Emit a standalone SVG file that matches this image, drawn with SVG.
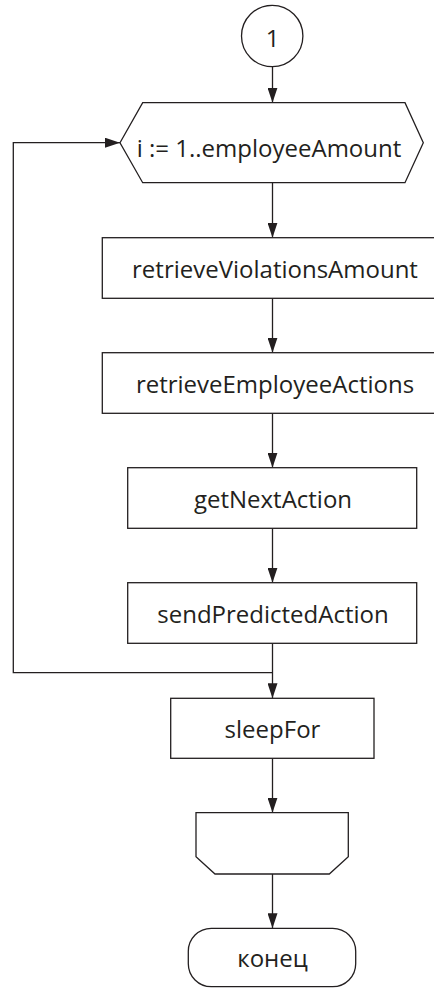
<svg xmlns="http://www.w3.org/2000/svg" width="434" height="988" viewBox="0 0 434 988">
<style>
.s{fill:#fff;stroke:#231f20;stroke-width:1.3}
.t{font-family:"Open Sans","Noto Sans","DejaVu Sans",sans-serif;font-size:24px;fill:#231f20;text-anchor:middle}
.c{fill:none;stroke:#231f20;stroke-width:1.3}
</style>
<defs>
<marker id="ah" viewBox="0 0 15 10" refX="15" refY="5" markerWidth="15" markerHeight="10" markerUnits="userSpaceOnUse" orient="auto">
<path d="M0,0 L15,5 L0,10 z" fill="#231f20"/>
</marker>
</defs>
<g id="connectors">
<line class="c" x1="272.5" y1="67" x2="272.5" y2="102.7" marker-end="url(#ah)"/>
<line class="c" x1="272.5" y1="182.7" x2="272.5" y2="237.7" marker-end="url(#ah)"/>
<line class="c" x1="272.5" y1="298.3" x2="272.5" y2="352.7" marker-end="url(#ah)"/>
<line class="c" x1="272.5" y1="413.3" x2="272.5" y2="467.7" marker-end="url(#ah)"/>
<line class="c" x1="272.5" y1="528.3" x2="272.5" y2="582.7" marker-end="url(#ah)"/>
<line class="c" x1="272.5" y1="643.3" x2="272.5" y2="698.3" marker-end="url(#ah)"/>
<line class="c" x1="272.5" y1="758.3" x2="272.5" y2="812.7" marker-end="url(#ah)"/>
<line class="c" x1="272.5" y1="874" x2="272.5" y2="928.3" marker-end="url(#ah)"/>
<path class="c" d="M272.5,672.7 H13.3 V142.7 H120" marker-end="url(#ah)"/>
</g>
<g id="n-connector">
<circle class="s" cx="272.2" cy="36" r="30.7"/>
<text class="t" x="272.5" y="47">1</text>
</g>
<g id="n-loop-start">
<polygon class="s" points="120,142.7 142.7,102.7 405,102.7 423.3,142.7 405,182.7 142.7,182.7"/>
<text class="t" x="269" y="157">i := 1..employeeAmount</text>
</g>
<g id="n-retrieveViolationsAmount">
<rect class="s" x="102.3" y="237.7" width="340.4" height="60.6"/>
<text class="t" x="275" y="278.3">retrieveViolationsAmount</text>
</g>
<g id="n-retrieveEmployeeActions">
<rect class="s" x="102.3" y="352.7" width="340.4" height="60.6"/>
<text class="t" x="275" y="393.3">retrieveEmployeeActions</text>
</g>
<g id="n-getNextAction">
<rect class="s" x="127.7" y="467.7" width="289" height="60.6"/>
<text class="t" x="273" y="508.3">getNextAction</text>
</g>
<g id="n-sendPredictedAction">
<rect class="s" x="127.7" y="582.7" width="289" height="60.6"/>
<text class="t" x="273" y="623.3">sendPredictedAction</text>
</g>
<g id="n-sleepFor">
<rect class="s" x="170.7" y="698.3" width="203.3" height="60"/>
<text class="t" x="272.5" y="738.3">sleepFor</text>
</g>
<g id="n-loop-end">
<polygon class="s" points="196,812.7 348.3,812.7 348.3,856.7 329.3,874 215,874 196,856.7"/>
</g>
<g id="n-end">
<rect class="s" x="188.3" y="928.3" width="167.4" height="58.4" rx="23" ry="23"/>
<text class="t" x="272.5" y="966.5">конец</text>
</g>
</svg>
